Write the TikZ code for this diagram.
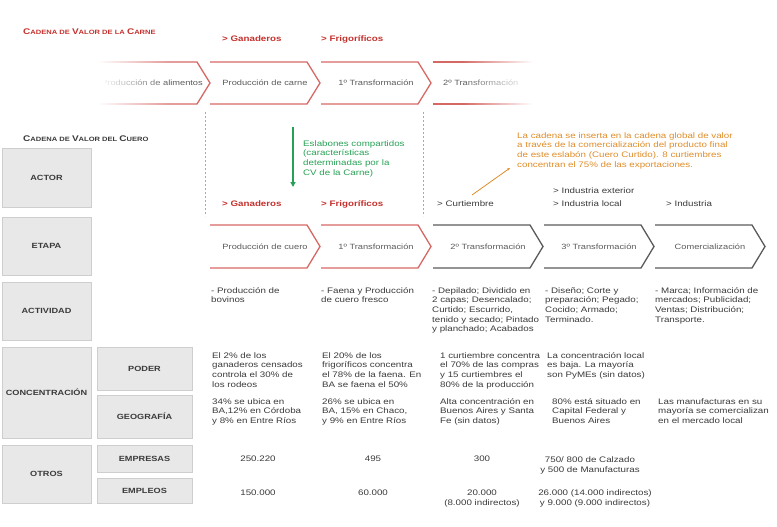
\documentclass[tikz,border=0pt]{standalone}
\usepackage{fontspec}
\setmainfont{Liberation Sans}[FakeStretch=1.22]
\usetikzlibrary{fadings,arrows.meta}
\definecolor{chevred}{RGB}{214,104,100}
\definecolor{txtred}{RGB}{196,48,44}
\definecolor{chevgray}{RGB}{90,90,90}
\definecolor{txtgray}{RGB}{58,58,58}
\definecolor{boxfill}{RGB}{232,232,232}
\definecolor{boxline}{RGB}{206,206,206}
\definecolor{grn}{RGB}{38,160,84}
\definecolor{orng}{RGB}{222,140,40}
\definecolor{dashgray}{RGB}{170,170,170}
\tikzfading[name=fadeoutright, left color=transparent!0, right color=transparent!100]
\tikzfading[name=fadeinright, left color=transparent!100, right color=transparent!0]
\newcommand\mysc[2]{{\fontsize{8.2}{9}\selectfont #1}{\fontsize{6.2}{7}\selectfont #2}}
\newcommand\chev[4]{\draw[#4, line width=1.3pt, line join=miter] (#1,#2) -- ({#1+97},#2) -- ({#1+110},{(#2+#3)/2}) -- ({#1+97},#3) -- (#1,#3);}
\begin{document}
\begin{tikzpicture}[x=1pt,y=-1pt,
  graybox/.style={fill=boxfill, draw=boxline, line width=0.8pt},
  boxlabel/.style={font=\fontsize{7.5}{9}\selectfont\bfseries, text=txtgray, inner sep=0pt},
  body/.style={anchor=north west, inner sep=0pt, align=left, font=\fontsize{8}{9.6}\selectfont, text=txtgray},
  cbody/.style={anchor=north, inner sep=0pt, align=center, font=\fontsize{8}{9.8}\selectfont, text=txtgray},
  sline/.style={anchor=base, inner sep=0pt, font=\fontsize{8}{9.6}\selectfont, text=txtgray},
  chevtext/.style={inner sep=0pt, font=\fontsize{7.6}{9}\selectfont, text=chevgray},
  redlabel/.style={anchor=base west, inner sep=0pt, font=\fontsize{8}{9}\selectfont\bfseries, text=txtred},
  actorlabel/.style={anchor=base west, inner sep=0pt, font=\fontsize{8}{9}\selectfont, text=txtgray},
  sectitle/.style={anchor=base west, inner sep=0pt, font=\bfseries}
]
\useasboundingbox (0,0) rectangle (777,527);

% titles
\node[sectitle, text=txtred] (t1) at (23,35) {\mysc{C}{ADENA DE }\mysc{V}{ALOR DE LA }\mysc{C}{ARNE}};
\node[sectitle, text=txtgray] (t2) at (23,141) {\mysc{C}{ADENA DE }\mysc{V}{ALOR DEL }\mysc{C}{UERO}};

% top actor labels
\node[redlabel] (g1) at (222,42) {> Ganaderos};
\node[redlabel] (f1) at (321,42) {> Frigoríficos};

% top chevrons
\begin{scope}
\clip (100,50) rectangle (532,112);
\chev{100}{62}{104}{chevred}
\chev{210}{62}{104}{chevred}
\chev{321}{62}{104}{chevred}
\draw[chevred, line width=1.3pt] (433,62) -- (560,62);
\draw[chevred, line width=1.3pt] (433,104) -- (560,104);
\end{scope}
\begin{scope}
\clip (105,50) rectangle (532,112);
\node[chevtext, anchor=east] (tc1) at (203,83) {Producción de alimentos};
\node[chevtext] (tc2) at (265,83) {Producción de carne};
\node[chevtext] (tc3) at (376,83) {1º Transformación};
\node[chevtext, anchor=west] (tc4) at (443,83) {2º Transformación};
\end{scope}
\fill[white, path fading=fadeoutright] (98,56) rectangle (168,110);
\fill[white, path fading=fadeinright] (462,56) rectangle (533,110);

% dashed lines
\draw[dashgray, line width=0.9pt, dash pattern=on 2pt off 2pt] (205,112) -- (205,216);
\draw[dashgray, line width=0.9pt, dash pattern=on 2pt off 2pt] (423,112) -- (423,216);

% green arrow and note
\coordinate (ga) at (293,127);
\coordinate (gb) at (293,187);
\draw[grn, line width=1.6pt, -{Triangle[length=5pt,width=5pt]}] (ga) -- (gb);
\node[body, text=grn, font=\fontsize{8}{9.7}\selectfont] (gnote) at (303,139.3) {\strut Eslabones compartidos\\(características\\determinadas por la\\CV de la Carne)};

% orange note
\node[body, text=orng, font=\fontsize{8}{9.7}\selectfont] (onote) at (517,131.3) {\strut La cadena se inserta en la cadena global de valor\\a través de la comercialización del producto final\\de este eslabón (Cuero Curtido). 8 curtiembres\\concentran el 75\% de las exportaciones.};
\coordinate (oa) at (472,195);
\coordinate (ob) at (510,168);
\draw[orng, line width=0.8pt, -{Stealth[length=3pt,width=2.5pt]}] (oa) -- (ob);

% left boxes
\node[graybox, minimum width=89, minimum height=59] (bactor) at (46.5,177.5) {};
\node[boxlabel] (lactor) at (bactor) {ACTOR};
\node[graybox, minimum width=89, minimum height=58] (betapa) at (46.5,246) {};
\node[boxlabel] (letapa) at (betapa) {ETAPA};
\node[graybox, minimum width=89, minimum height=58] (bact) at (46.5,311) {};
\node[boxlabel] (lact) at (bact) {ACTIVIDAD};
\node[graybox, minimum width=89, minimum height=91] (bconc) at (46.5,392.5) {};
\node[boxlabel] (lconc) at (bconc) {CONCENTRACIÓN};
\node[graybox, minimum width=95, minimum height=43] (bpod) at (144.5,368.5) {};
\node[boxlabel] (lpod) at (bpod) {PODER};
\node[graybox, minimum width=95, minimum height=43] (bgeo) at (144.5,416.5) {};
\node[boxlabel] (lgeo) at (bgeo) {GEOGRAFÍA};
\node[graybox, minimum width=89, minimum height=58] (botros) at (46.5,474) {};
\node[boxlabel] (lotros) at (botros) {OTROS};
\node[graybox, minimum width=95, minimum height=27] (bemp) at (144.5,458.5) {};
\node[boxlabel] (lemp) at (bemp) {EMPRESAS};
\node[graybox, minimum width=95, minimum height=25] (bemq) at (144.5,490.5) {};
\node[boxlabel] (lemq) at (bemq) {EMPLEOS};

% actor row
\node[redlabel] (g2) at (222,206) {> Ganaderos};
\node[redlabel] (f2) at (321,206) {> Frigoríficos};
\node[actorlabel] (a3) at (437,206) {> Curtiembre};
\node[actorlabel] (a4a) at (553,193) {> Industria exterior};
\node[actorlabel] (a4b) at (553,206) {> Industria local};
\node[actorlabel] (a5) at (666,206) {> Industria};

% lower chevrons
\chev{210}{225}{268}{chevred}
\chev{321}{225}{268}{chevred}
\chev{433}{225}{268}{chevgray}
\chev{544}{225}{268}{chevgray}
\chev{655}{225}{268}{chevgray}
\node[chevtext] (e1) at (265,247) {Producción de cuero};
\node[chevtext] (e2) at (376,247) {1º Transformación};
\node[chevtext] (e3) at (488,247) {2º Transformación};
\node[chevtext] (e4) at (599,247) {3º Transformación};
\node[chevtext] (e5) at (710,247) {Comercialización};

% actividad
\node[body] (ac1) at (211,286.3) {\strut - Producción de\\bovinos};
\node[body] (ac2) at (321,286.3) {\strut - Faena y Producción\\de cuero fresco};
\node[body] (ac3) at (432,286.3) {\strut - Depilado; Dividido en\\2 capas; Desencalado;\\Curtido; Escurrido,\\tenido y secado; Pintado\\y planchado; Acabados};
\node[body] (ac4) at (545,286.3) {\strut - Diseño; Corte y\\preparación; Pegado;\\Cocido; Armado;\\Terminado.};
\node[body] (ac5) at (655,286.3) {\strut - Marca; Información de\\mercados; Publicidad;\\Ventas; Distribución;\\Transporte.};

% poder
\node[body] (p1) at (212,351.3) {\strut El 2\% de los\\ganaderos censados\\controla el 30\% de\\los rodeos};
\node[body] (p2) at (322,351.3) {\strut El 20\% de los\\frigoríficos concentra\\el 78\% de la faena. En\\BA se faena el 50\%};
\node[body] (p3) at (440,351.3) {\strut 1 curtiembre concentra\\el 70\% de las compras\\y 15 curtiembres el\\80\% de la producción};
\node[body] (p4) at (547,351.3) {\strut La concentración local\\es baja. La mayoría\\son PyMEs (sin datos)};

% geografia
\node[body] (q1) at (212,397.3) {\strut 34\% se ubica en\\BA,12\% en Córdoba\\y 8\% en Entre Ríos};
\node[body] (q2) at (322,397.3) {\strut 26\% se ubica en\\BA, 15\% en Chaco,\\y 9\% en Entre Ríos};
\node[body] (q3) at (440,397.3) {\strut Alta concentración en\\Buenos Aires y Santa\\Fe (sin datos)};
\node[body] (q4) at (552,397.3) {\strut 80\% está situado en\\Capital Federal y\\Buenos Aires};
\node[body] (q5) at (658,397.3) {\strut Las manufacturas en su\\mayoría se comercializan\\en el mercado local};

% empresas
\node[sline] (m1) at (258,461) {250.220};
\node[sline] (m2) at (373,461) {495};
\node[sline] (m3) at (482,461) {300};
\node[cbody] (m4) at (590,455.3) {\strut 750/ 800 de Calzado\\y 500 de Manufacturas};

% empleos
\node[sline] (n1) at (258,495) {150.000};
\node[sline] (n2) at (373,495) {60.000};
\node[cbody] (n3) at (482,488.3) {\strut 20.000\\(8.000 indirectos)};
\node[cbody] (n4) at (595,488.3) {\strut 26.000 (14.000 indirectos)\\y 9.000 (9.000 indirectos)};
\end{tikzpicture}
\end{document}
